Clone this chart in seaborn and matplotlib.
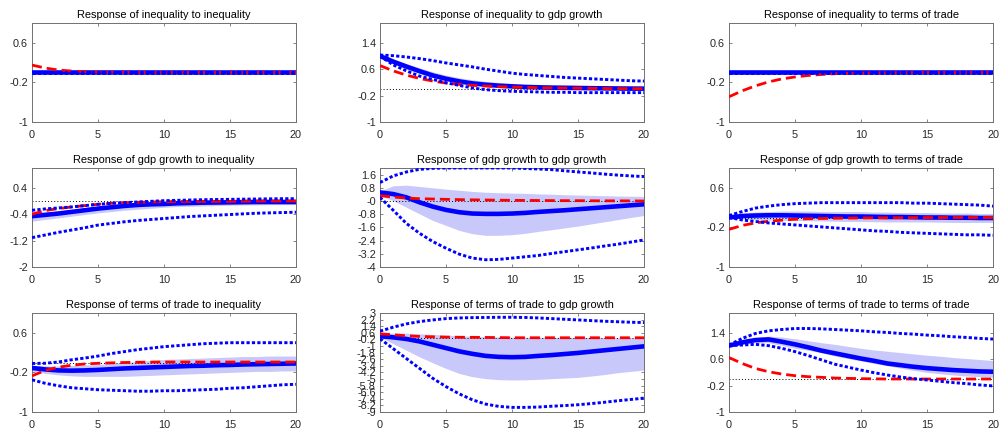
import numpy as np
import pandas as pd
import matplotlib
matplotlib.use("Agg")
import matplotlib.pyplot as plt
from matplotlib.ticker import FixedLocator, FuncFormatter
import seaborn as sns

# ---------------- data (horizon 0..20) ----------------
horizon = list(range(21))

titles = [
    "Response of inequality to inequality",
    "Response of inequality to gdp growth",
    "Response of inequality to terms of trade",
    "Response of gdp growth to inequality",
    "Response of gdp growth to gdp growth",
    "Response of gdp growth to terms of trade",
    "Response of terms of trade to inequality",
    "Response of terms of trade to gdp growth",
    "Response of terms of trade to terms of trade",
]
ylims = [(-1, 1), (-1, 2), (-1, 1),
         (-2, 1), (-4, 2), (-1, 1),
         (-1, 1), (-9, 3), (-1, 2)]

# 1: inequality -> inequality
ii_med = [0.0] * 21
ii_bhi = [0.008] * 21
ii_blo = [-0.008] * 21
ii_dhi = [0.015] * 21
ii_dlo = [-0.015] * 21
ii_red = [0.15, 0.09, 0.05, 0.03, 0.015, 0.008, 0.004, 0.002, 0.001, 0.0, 0.0,
          0.0, 0.0, 0.0, 0.0, 0.0, 0.0, 0.0, 0.0, 0.0, 0.0]

# 2: inequality -> gdp growth
ig_med = [1.0, 0.83, 0.68, 0.54, 0.41, 0.31, 0.23, 0.17, 0.13, 0.10, 0.08,
          0.06, 0.05, 0.04, 0.035, 0.03, 0.025, 0.02, 0.015, 0.012, 0.01]
ig_bhi = [1.02, 0.90, 0.77, 0.64, 0.52, 0.42, 0.34, 0.28, 0.23, 0.20, 0.17,
          0.15, 0.14, 0.13, 0.12, 0.11, 0.10, 0.10, 0.09, 0.09, 0.09]
ig_blo = [0.97, 0.78, 0.62, 0.47, 0.35, 0.26, 0.19, 0.13, 0.09, 0.06, 0.04,
          0.03, 0.02, 0.01, 0.005, 0.0, -0.005, -0.01, -0.01, -0.01, -0.01]
ig_dhi = [1.03, 1.01, 0.97, 0.92, 0.86, 0.79, 0.73, 0.67, 0.60, 0.54, 0.48,
          0.44, 0.41, 0.38, 0.35, 0.33, 0.31, 0.29, 0.27, 0.25, 0.24]
ig_dlo = [1.0, 0.73, 0.55, 0.39, 0.29, 0.19, 0.11, 0.03, -0.02, -0.05, -0.07,
          -0.08, -0.09, -0.10, -0.10, -0.11, -0.11, -0.11, -0.11, -0.11, -0.11]
ig_red = [0.71, 0.55, 0.42, 0.32, 0.24, 0.18, 0.14, 0.11, 0.09, 0.07, 0.06,
          0.05, 0.04, 0.035, 0.03, 0.025, 0.02, 0.015, 0.012, 0.01, 0.01]

# 3: inequality -> terms of trade
it_med = [0.0] * 21
it_bhi = [0.01] * 21
it_blo = [-0.01] * 21
it_dhi = [0.02] * 21
it_dlo = [-0.02] * 21
it_red = [-0.49, -0.37, -0.27, -0.19, -0.13, -0.09, -0.06, -0.04, -0.025, -0.015,
          -0.01, -0.006, -0.004, -0.002, -0.001, 0.0, 0.0, 0.0, 0.0, 0.0, 0.0]

# 4: gdp growth -> inequality
gi_med = [-0.46, -0.42, -0.38, -0.33, -0.28, -0.23, -0.19, -0.15, -0.12, -0.10, -0.09,
          -0.07, -0.06, -0.05, -0.045, -0.04, -0.035, -0.03, -0.03, -0.03, -0.03]
gi_bhi = [-0.38, -0.34, -0.30, -0.26, -0.21, -0.17, -0.13, -0.10, -0.08, -0.06, -0.05,
          -0.04, -0.03, -0.02, -0.01, 0.0, 0.0, 0.01, 0.01, 0.02, 0.02]
gi_blo = [-0.61, -0.56, -0.51, -0.46, -0.41, -0.36, -0.32, -0.28, -0.25, -0.22, -0.19,
          -0.17, -0.16, -0.15, -0.14, -0.13, -0.12, -0.12, -0.11, -0.11, -0.11]
gi_dhi = [-0.28, -0.24, -0.21, -0.18, -0.14, -0.10, -0.07, -0.05, -0.03, -0.01, 0.01,
          0.02, 0.03, 0.04, 0.045, 0.05, 0.055, 0.06, 0.065, 0.07, 0.07]
gi_dlo = [-1.11, -1.03, -0.95, -0.88, -0.81, -0.73, -0.68, -0.63, -0.59, -0.56, -0.53,
          -0.50, -0.47, -0.45, -0.43, -0.41, -0.39, -0.37, -0.36, -0.35, -0.34]
gi_red = [-0.40, -0.29, -0.23, -0.18, -0.14, -0.10, -0.07, -0.05, -0.04, -0.03, -0.02,
          -0.015, -0.012, -0.01, -0.01, -0.01, -0.005, 0.0, 0.0, 0.0, 0.0]

# 5: gdp growth -> gdp growth
gg_med = [0.52, 0.42, 0.22, -0.08, -0.34, -0.54, -0.68, -0.76, -0.78, -0.78, -0.76,
          -0.72, -0.66, -0.61, -0.56, -0.50, -0.44, -0.38, -0.32, -0.26, -0.20]
gg_bhi = [0.60, 0.92, 0.96, 0.88, 0.80, 0.72, 0.65, 0.58, 0.53, 0.50, 0.48,
          0.46, 0.43, 0.41, 0.38, 0.36, 0.34, 0.32, 0.30, 0.29, 0.28]
gg_blo = [0.32, 0.02, -0.38, -0.78, -1.18, -1.48, -1.78, -1.98, -2.08, -2.08, -2.04,
          -1.96, -1.84, -1.74, -1.63, -1.52, -1.39, -1.26, -1.13, -1.00, -0.88]
gg_dhi = [1.12, 1.52, 1.76, 1.92, 1.98, 2.0, 2.0, 2.0, 2.0, 2.0, 2.0,
          1.97, 1.94, 1.90, 1.83, 1.76, 1.70, 1.63, 1.57, 1.52, 1.48]
gg_dlo = [0.22, -0.56, -1.36, -1.96, -2.46, -2.86, -3.22, -3.46, -3.56, -3.54, -3.46,
          -3.38, -3.30, -3.18, -3.07, -2.96, -2.85, -2.73, -2.62, -2.49, -2.36]
gg_red = [0.32, 0.24, 0.18, 0.14, 0.12, 0.10, 0.085, 0.07, 0.06, 0.05, 0.04,
          0.035, 0.03, 0.025, 0.02, 0.02, 0.015, 0.01, 0.01, 0.005, 0.0]

# 6: gdp growth -> terms of trade
gt_med = [0.0, 0.03, 0.04, 0.045, 0.045, 0.04, 0.035, 0.03, 0.025, 0.02, 0.02,
          0.015, 0.01, 0.01, 0.005, 0.0, 0.0, -0.005, -0.005, -0.01, -0.01]
gt_bhi = [0.03, 0.08, 0.11, 0.12, 0.13, 0.13, 0.13, 0.12, 0.12, 0.12, 0.12,
          0.11, 0.11, 0.10, 0.10, 0.10, 0.09, 0.09, 0.09, 0.08, 0.08]
gt_blo = [-0.01, -0.03, -0.04, -0.05, -0.055, -0.06, -0.065, -0.07, -0.075, -0.08, -0.08,
          -0.085, -0.09, -0.09, -0.09, -0.09, -0.095, -0.10, -0.10, -0.10, -0.10]
gt_dhi = [0.04, 0.12, 0.19, 0.23, 0.26, 0.28, 0.29, 0.30, 0.30, 0.30, 0.30,
          0.30, 0.30, 0.30, 0.29, 0.29, 0.28, 0.27, 0.26, 0.25, 0.23]
gt_dlo = [0.0, -0.05, -0.08, -0.11, -0.13, -0.15, -0.17, -0.19, -0.21, -0.23, -0.25,
          -0.27, -0.28, -0.30, -0.31, -0.32, -0.33, -0.34, -0.35, -0.35, -0.36]
gt_red = [-0.24, -0.16, -0.11, -0.075, -0.055, -0.035, -0.025, -0.02, -0.015, -0.012, -0.01,
          -0.008, -0.006, -0.004, -0.003, -0.002, -0.001, 0.0, 0.0, 0.0, 0.0]

# 7: terms of trade -> inequality
ti_med = [-0.11, -0.14, -0.16, -0.165, -0.16, -0.15, -0.135, -0.12, -0.11, -0.10, -0.09,
          -0.08, -0.07, -0.065, -0.055, -0.05, -0.04, -0.035, -0.03, -0.025, -0.02]
ti_bhi = [-0.06, -0.07, -0.07, -0.06, -0.05, -0.04, -0.02, 0.0, 0.02, 0.04, 0.06,
          0.07, 0.08, 0.09, 0.10, 0.11, 0.12, 0.12, 0.13, 0.13, 0.13]
ti_blo = [-0.17, -0.22, -0.25, -0.27, -0.28, -0.28, -0.28, -0.28, -0.27, -0.26, -0.25,
          -0.24, -0.23, -0.22, -0.21, -0.20, -0.19, -0.18, -0.18, -0.17, -0.17]
ti_dhi = [-0.02, -0.015, 0.01, 0.055, 0.09, 0.13, 0.18, 0.22, 0.26, 0.29, 0.32,
          0.34, 0.36, 0.38, 0.39, 0.40, 0.40, 0.40, 0.40, 0.40, 0.40]
ti_dlo = [-0.35, -0.42, -0.47, -0.51, -0.53, -0.55, -0.56, -0.57, -0.58, -0.58, -0.57,
          -0.57, -0.56, -0.55, -0.54, -0.52, -0.51, -0.49, -0.47, -0.45, -0.44]
ti_red = [-0.27, -0.16, -0.095, -0.055, -0.03, -0.016, -0.008, 0.0, 0.005, 0.008, 0.01,
          0.01, 0.01, 0.01, 0.01, 0.01, 0.01, 0.01, 0.01, 0.01, 0.01]

# 8: terms of trade -> gdp growth
tg_med = [0.20, 0.05, -0.15, -0.45, -0.85, -1.25, -1.65, -1.95, -2.20, -2.32, -2.36,
          -2.32, -2.20, -2.10, -1.97, -1.84, -1.68, -1.52, -1.36, -1.20, -1.04]
tg_bhi = [0.50, 0.56, 0.56, 0.48, 0.40, 0.32, 0.24, 0.16, 0.12, 0.10, 0.08,
          0.07, 0.06, 0.05, 0.05, 0.04, 0.03, 0.02, 0.0, -0.02, -0.04]
tg_blo = [0.08, -0.72, -1.52, -2.32, -3.04, -3.72, -4.32, -4.72, -4.96, -5.08, -5.12,
          -5.10, -5.04, -4.96, -4.88, -4.80, -4.64, -4.46, -4.24, -4.08, -3.92]
tg_dhi = [0.80, 1.28, 1.68, 1.96, 2.16, 2.32, 2.40, 2.44, 2.46, 2.48, 2.48,
          2.46, 2.40, 2.32, 2.24, 2.16, 2.08, 2.0, 1.94, 1.88, 1.84]
tg_dlo = [-0.12, -1.32, -2.52, -3.72, -4.92, -5.92, -6.80, -7.52, -8.04, -8.32, -8.44,
          -8.44, -8.40, -8.30, -8.22, -8.12, -7.98, -7.82, -7.64, -7.48, -7.32]
tg_red = [0.48, 0.36, 0.24, 0.16, 0.11, 0.08, 0.06, 0.05, 0.04, 0.02, 0.0,
          0.0, 0.0, 0.0, 0.0, 0.0, 0.0, 0.0, 0.0, 0.0, 0.0]

# 9: terms of trade -> terms of trade
tt_med = [1.01, 1.11, 1.18, 1.20, 1.13, 1.05, 0.96, 0.86, 0.78, 0.70, 0.62,
          0.55, 0.47, 0.42, 0.37, 0.33, 0.30, 0.27, 0.25, 0.23, 0.22]
tt_bhi = [1.05, 1.18, 1.25, 1.30, 1.27, 1.22, 1.16, 1.10, 1.05, 0.99, 0.93,
          0.88, 0.84, 0.80, 0.76, 0.72, 0.69, 0.65, 0.62, 0.59, 0.56]
tt_blo = [0.98, 1.05, 1.10, 1.10, 1.02, 0.93, 0.87, 0.80, 0.70, 0.62, 0.55,
          0.47, 0.40, 0.33, 0.26, 0.20, 0.16, 0.12, 0.09, 0.07, 0.05]
tt_dhi = [1.03, 1.23, 1.38, 1.46, 1.50, 1.53, 1.53, 1.52, 1.50, 1.48, 1.46,
          1.43, 1.41, 1.38, 1.36, 1.33, 1.31, 1.28, 1.26, 1.23, 1.21]
tt_dlo = [1.01, 1.03, 1.05, 1.01, 0.93, 0.83, 0.71, 0.58, 0.45, 0.36, 0.27,
          0.19, 0.12, 0.06, 0.01, -0.03, -0.07, -0.11, -0.14, -0.18, -0.21]
tt_red = [0.65, 0.47, 0.32, 0.22, 0.15, 0.10, 0.07, 0.05, 0.03, 0.02, 0.01,
          0.005, 0.0, 0.0, 0.0, 0.0, 0.0, 0.0, 0.0, 0.0, 0.0]

panels = [
    (ii_med, ii_bhi, ii_blo, ii_dhi, ii_dlo, ii_red),
    (ig_med, ig_bhi, ig_blo, ig_dhi, ig_dlo, ig_red),
    (it_med, it_bhi, it_blo, it_dhi, it_dlo, it_red),
    (gi_med, gi_bhi, gi_blo, gi_dhi, gi_dlo, gi_red),
    (gg_med, gg_bhi, gg_blo, gg_dhi, gg_dlo, gg_red),
    (gt_med, gt_bhi, gt_blo, gt_dhi, gt_dlo, gt_red),
    (ti_med, ti_bhi, ti_blo, ti_dhi, ti_dlo, ti_red),
    (tg_med, tg_bhi, tg_blo, tg_dhi, tg_dlo, tg_red),
    (tt_med, tt_bhi, tt_blo, tt_dhi, tt_dlo, tt_red),
]

# ---------------- style ----------------
sns.set_theme(style="white")
plt.rcParams["font.family"] = ["Liberation Sans", "DejaVu Sans"]
plt.rcParams["axes.unicode_minus"] = False

fig = plt.figure(figsize=(10.01, 4.38), dpi=100)

lefts = [32 / 1001, 380 / 1001, 729 / 1001]
bottoms = [1 - 122 / 438, 1 - 267 / 438, 1 - 412 / 438]
w = 264 / 1001
h = 99 / 438

BLUE = "#0000ff"
RED = "#ff0000"
BAND = "#c8c8fa"
AXC = "#707070"
TXT = "#262626"

fmt = FuncFormatter(lambda v, p: f"{round(v, 1):g}")

for k, (med, bhi, blo, dhi, dlo, red) in enumerate(panels):
    r, c = divmod(k, 3)
    ax = fig.add_axes([lefts[c], bottoms[r], w, h])
    df = pd.DataFrame({"h": horizon, "med": med, "bhi": bhi, "blo": blo,
                       "dhi": dhi, "dlo": dlo, "red": red})
    ax.fill_between(df["h"], df["blo"], df["bhi"], color=BAND, lw=0, zorder=1)
    sns.lineplot(data=df, x="h", y="med", ax=ax, color=BLUE, lw=3.3, zorder=3)
    ax.axhline(0, color="black", lw=0.7, ls=(0, (1, 2.2)), zorder=2)
    sns.lineplot(data=df, x="h", y="red", ax=ax, color=RED, lw=2.0,
                 dashes=False, zorder=4).lines[-1].set_dashes((3.6, 1.8))
    for col in ("dhi", "dlo"):
        ln = sns.lineplot(data=df, x="h", y=col, ax=ax, color=BLUE, lw=2.1, zorder=5).lines[-1]
        ln.set_dashes((1.1, 0.75))

    lo, hi = ylims[k]
    ax.set_xlim(0, 20)
    ax.set_ylim(lo, hi)
    ax.xaxis.set_major_locator(FixedLocator([0, 5, 10, 15, 20]))
    yt = np.round(np.arange(lo, hi + 1e-9, 0.8), 2)
    ax.yaxis.set_major_locator(FixedLocator(yt))
    ax.yaxis.set_major_formatter(fmt)
    ax.set_xlabel("")
    ax.set_ylabel("")
    ax.set_title(titles[k], fontsize=7.9, color="black", pad=3.5)
    ax.tick_params(axis="both", direction="in", length=2.5, width=0.6,
                   color=AXC, labelsize=7.8, labelcolor=TXT,
                   top=True, right=True, bottom=True, left=True)
    ax.tick_params(axis="x", pad=6)
    ax.tick_params(axis="y", pad=3)
    for s in ax.spines.values():
        s.set_color(AXC)
        s.set_linewidth(0.7)
    ax.set_facecolor("white")

fig.savefig("out.png", dpi=100)
